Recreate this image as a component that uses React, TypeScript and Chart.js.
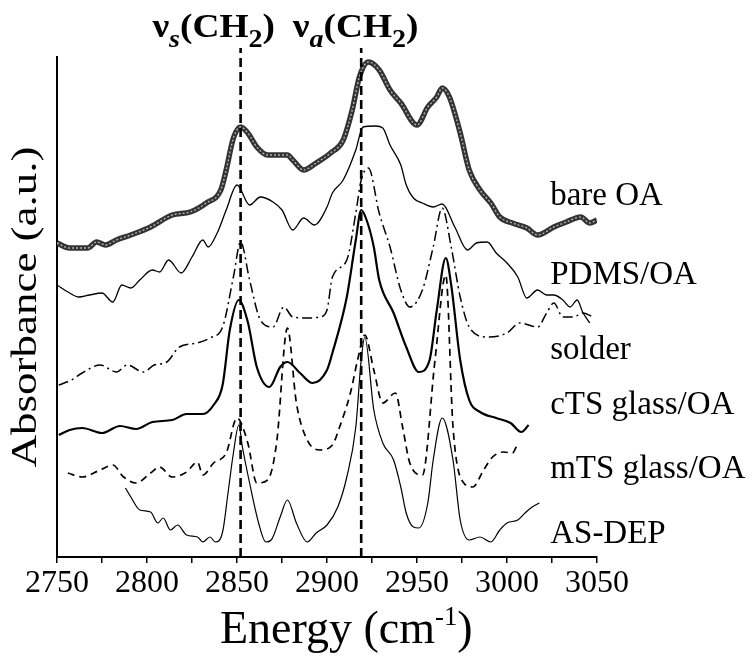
import React, { useEffect, useRef } from "react";
import { Chart, registerables } from "chart.js";

Chart.register(...registerables);

type Pt = [number, number];

// Wavenumber axis (cm^-1)
const xMin = 2750;
const xMax = 3050;
const xStep = 25;
const xLabelStep = 50;

// Band positions marked by the dashed guides
const bandCenters = [2852, 2919];
const bandTop = 101.8;

// Spectra, stacked with a vertical offset for display (absorbance, a.u.)
const bareOA: Pt[] = [
  [2750, 62.8], [2757, 61.8], [2767, 61.8], [2772, 63.0], [2777, 62.4], [2783, 63.4],
  [2791, 64.4], [2802, 66.0], [2814, 68.4], [2824, 69.0], [2833, 70.8], [2841, 73.4],
  [2844, 77.4], [2848, 83.8], [2852, 86.0], [2856, 84.8], [2861, 82.0], [2867, 80.4],
  [2874, 80.4], [2878, 80.4], [2881, 79.4], [2887, 77.4], [2894, 78.8], [2902, 80.8],
  [2909, 83.4], [2914, 89.4], [2918, 96.0], [2923, 99.0], [2929, 97.4], [2935, 93.4],
  [2941, 90.8], [2950, 86.4], [2956, 90.0], [2961, 92.0], [2964, 93.8], [2968, 92.0],
  [2974, 84.8], [2979, 77.4], [2985, 73.4], [2991, 70.8], [2996, 68.0], [3003, 66.8],
  [3011, 65.8], [3017, 64.4], [3026, 66.0], [3033, 67.0], [3041, 68.0], [3046, 66.8],
  [3050, 67.4],
];

const pdmsOA: Pt[] = [
  [2750, 54.4], [2757, 52.8], [2762, 52.0], [2768, 52.4], [2775, 52.8], [2781, 51.0],
  [2786, 54.4], [2791, 53.8], [2796, 55.4], [2803, 57.4], [2807, 57.0], [2812, 59.4],
  [2819, 56.8], [2825, 60.0], [2831, 63.4], [2834, 62.0], [2839, 64.8], [2844, 69.4],
  [2850, 74.4], [2857, 70.4], [2863, 72.0], [2870, 71.0], [2875, 69.4], [2881, 65.4],
  [2887, 67.8], [2893, 66.4], [2900, 70.0], [2903, 72.8], [2909, 75.4], [2916, 81.4],
  [2920, 86.0], [2927, 86.2], [2931, 85.8], [2935, 82.4], [2941, 78.4], [2944, 74.4],
  [2948, 71.8], [2953, 70.8], [2959, 70.0], [2964, 70.6], [2971, 66.0], [2978, 61.4],
  [2983, 62.8], [2989, 63.0], [2994, 60.8], [3000, 58.8], [3006, 56.0], [3011, 51.8],
  [3017, 53.4], [3022, 52.4], [3026, 52.4], [3031, 51.4], [3035, 50.0], [3039, 51.4],
  [3042, 49.0], [3046, 46.8],
];

const solder: Pt[] = [
  [2751, 34.4], [2758, 35.4], [2764, 36.8], [2774, 38.4], [2783, 37.0], [2789, 38.4],
  [2798, 37.0], [2804, 38.4], [2811, 39.0], [2818, 42.0], [2828, 42.8], [2835, 43.8],
  [2842, 46.0], [2848, 56.0], [2852, 63.0], [2857, 55.4], [2863, 47.4], [2870, 46.0],
  [2876, 50.0], [2881, 48.0], [2889, 47.8], [2896, 48.0], [2900, 49.4], [2903, 56.0],
  [2911, 59.4], [2916, 68.8], [2919, 75.4], [2923, 77.8], [2929, 68.8], [2935, 62.0],
  [2941, 53.4], [2946, 50.0], [2953, 53.4], [2959, 62.0], [2964, 69.8], [2969, 62.0],
  [2974, 52.0], [2979, 46.0], [2989, 44.0], [3000, 44.8], [3007, 46.8], [3017, 46.0],
  [3022, 48.8], [3026, 50.8], [3031, 48.0], [3037, 48.0], [3042, 48.8], [3048, 48.0],
];

const ctsGlassOA: Pt[] = [
  [2751, 24.4], [2757, 25.4], [2764, 25.8], [2775, 24.8], [2785, 26.2], [2794, 25.6],
  [2803, 27.0], [2814, 27.4], [2822, 28.6], [2831, 28.6], [2837, 30.4], [2842, 34.4],
  [2846, 45.4], [2851, 51.4], [2856, 47.0], [2861, 38.0], [2868, 34.0], [2874, 38.0],
  [2878, 39.0], [2885, 36.8], [2892, 34.8], [2900, 37.4], [2903, 40.8], [2911, 52.0],
  [2916, 63.4], [2919, 69.4], [2922, 67.4], [2926, 62.0], [2929, 55.4], [2937, 48.8],
  [2944, 42.0], [2951, 37.0], [2957, 39.4], [2961, 49.4], [2966, 59.8], [2969, 54.4],
  [2974, 39.4], [2979, 31.4], [2985, 29.0], [2994, 27.8], [3002, 26.8], [3008, 25.0],
  [3012, 26.4],
];

const mtsGlassOA: Pt[] = [
  [2756, 16.8], [2764, 16.0], [2774, 17.4], [2781, 18.4], [2787, 16.0], [2794, 14.8],
  [2802, 16.8], [2807, 18.0], [2814, 16.0], [2822, 17.0], [2828, 19.0], [2831, 16.4],
  [2837, 18.8], [2844, 20.8], [2850, 27.8], [2856, 22.8], [2861, 14.8], [2867, 15.4],
  [2872, 22.8], [2878, 45.8], [2883, 30.8], [2889, 23.4], [2896, 21.4], [2903, 22.4],
  [2907, 26.0], [2913, 32.8], [2917, 39.4], [2921, 44.4], [2926, 37.4], [2931, 30.8],
  [2938, 32.8], [2942, 26.0], [2946, 18.8], [2953, 16.4], [2960, 39.4], [2966, 56.4],
  [2970, 26.0], [2976, 14.8], [2981, 14.0], [2987, 17.4], [2992, 20.0], [2998, 21.0],
  [3003, 20.8], [3006, 22.8],
];

const asDep: Pt[] = [
  [2788, 13.8], [2791, 12.0], [2796, 9.4], [2802, 9.0], [2806, 6.8], [2809, 7.8],
  [2813, 5.4], [2817, 6.4], [2822, 4.4], [2828, 4.0], [2831, 3.0], [2835, 4.0],
  [2838, 3.0], [2842, 5.0], [2845, 12.8], [2848, 20.8], [2851, 26.4], [2853, 22.0],
  [2857, 14.8], [2862, 6.8], [2866, 3.0], [2869, 3.4], [2874, 8.0], [2878, 11.4],
  [2883, 6.8], [2889, 3.0], [2894, 4.8], [2900, 6.4], [2906, 10.0], [2911, 16.0],
  [2916, 26.0], [2919, 39.4], [2921, 44.0], [2926, 29.4], [2931, 22.8], [2937, 19.4],
  [2941, 14.0], [2944, 8.8], [2948, 6.0], [2951, 5.8], [2956, 10.8], [2959, 19.4],
  [2964, 27.8], [2970, 19.4], [2974, 7.4], [2979, 3.4], [2985, 4.0], [2991, 3.0],
  [2996, 5.4], [3000, 6.8], [3006, 7.4], [3010, 8.8], [3014, 10.0], [3018, 10.8],
];

// Trace names, written beside each spectrum
const seriesNames = ["bare OA", "PDMS/OA", "solder", "cTS glass/OA", "mTS glass/OA", "AS-DEP"];
const seriesLabelX = 3024;
const seriesLabelY = [70.4, 54.6, 39.6, 28.6, 15.8, 2.8];

// Band assignment labels above the guides
const bandLabelX = [2803, 2881];
const bandLabelY = 104;
const bandLabelSub = ["s", "a"];

const SERIF = '"Liberation Serif", "Times New Roman", serif';

type Run = { t: string; bold?: boolean; italic?: boolean; sub?: boolean; sup?: boolean };

function drawRuns(
  ctx: CanvasRenderingContext2D,
  runs: Run[],
  x: number,
  y: number,
  size: number,
  opts: { sx?: number; subScale?: number; subDy?: number; supScale?: number; supDy?: number } = {}
) {
  const sx = opts.sx ?? 1;
  const subScale = opts.subScale ?? 0.62;
  const supScale = opts.supScale ?? 0.6;
  const subDy = opts.subDy ?? size * 0.25;
  const supDy = opts.supDy ?? -size * 0.38;
  ctx.save();
  ctx.translate(x, y);
  ctx.scale(sx, 1);
  ctx.textAlign = "left";
  ctx.textBaseline = "alphabetic";
  ctx.fillStyle = "#000";
  let cx = 0;
  for (const r of runs) {
    const s = r.sub ? size * subScale : r.sup ? size * supScale : size;
    ctx.font = `${r.italic ? "italic " : ""}${r.bold ? "bold " : ""}${s}px ${SERIF}`;
    const dy = r.sub ? subDy : r.sup ? supDy : 0;
    ctx.fillText(r.t, cx, dy);
    cx += ctx.measureText(r.t).width;
  }
  ctx.restore();
}

const textPlugin = {
  id: "spectraText",
  afterDraw(chart: any) {
    const { ctx, chartArea, scales } = chart;
    const xs = scales.x;
    const ys = scales.y;

    // Trace names
    ctx.save();
    ctx.fillStyle = "#000";
    ctx.font = `33px ${SERIF}`;
    ctx.textAlign = "left";
    ctx.textBaseline = "alphabetic";
    seriesNames.forEach((name, i) => {
      ctx.fillText(name, xs.getPixelForValue(seriesLabelX), ys.getPixelForValue(seriesLabelY[i]));
    });
    ctx.restore();

    // Band labels: ν_s(CH2), ν_a(CH2)
    bandLabelSub.forEach((sub, i) => {
      drawRuns(
        ctx,
        [
          { t: "ν", bold: true },
          { t: sub, bold: true, italic: true, sub: true },
          { t: "(CH", bold: true },
          { t: "2", bold: true, sub: true },
          { t: ")", bold: true },
        ],
        xs.getPixelForValue(bandLabelX[i]),
        ys.getPixelForValue(bandLabelY),
        34,
        { sx: 1.1, subScale: 0.75, subDy: 10 }
      );
    });

    // x axis title
    drawRuns(
      ctx,
      [{ t: "Energy (cm" }, { t: "-1", sup: true }, { t: ")" }],
      chartArea.left + 163,
      chartArea.bottom + 86,
      46,
      { supScale: 0.58, supDy: -18 }
    );

    // y axis title
    ctx.save();
    ctx.translate(36, (chartArea.top + chartArea.bottom) / 2);
    ctx.rotate(-Math.PI / 2);
    ctx.scale(1, 0.8);
    ctx.fillStyle = "#000";
    ctx.font = `45px ${SERIF}`;
    ctx.textAlign = "center";
    ctx.textBaseline = "alphabetic";
    ctx.fillText("Absorbance (a.u.)", 0, 0);
    ctx.restore();
  },
};

const toXY = (a: Pt[]) => a.map(([x, y]) => ({ x, y }));

export default function App() {
  const canvasRef = useRef<HTMLCanvasElement | null>(null);

  useEffect(() => {
    const canvas = canvasRef.current;
    if (!canvas) return;

    const line = (data: Pt[], extra: any) => ({
      data: toXY(data),
      borderColor: "#000",
      borderWidth: 1.3,
      pointRadius: 0,
      fill: false,
      cubicInterpolationMode: "monotone",
      ...extra,
    });

    const guides = bandCenters.map((c) => ({
      data: [
        { x: c, y: 0 },
        { x: c, y: bandTop },
      ],
      borderColor: "#000",
      borderWidth: 2.6,
      borderDash: [9, 5],
      pointRadius: 0,
      fill: false,
      clip: false,
    }));

    const chart = new Chart(canvas, {
      type: "line",
      data: {
        datasets: [
          ...guides,
          line(bareOA, { borderColor: "#b0b0b0", borderWidth: 1.4, borderDash: [2, 2] }),
          line(bareOA, { borderColor: "#333", borderWidth: 5.5 }),
          line(pdmsOA, { borderWidth: 1.3 }),
          line(solder, { borderWidth: 1.5, borderDash: [10, 4, 2, 4] }),
          line(ctsGlassOA, { borderWidth: 2.2 }),
          line(mtsGlassOA, { borderWidth: 1.7, borderDash: [7, 5] }),
          line(asDep, { borderWidth: 1.2 }),
        ] as any,
      },
      options: {
        animation: false,
        responsive: false,
        devicePixelRatio: 1,
        layout: { padding: { top: 57, right: 156, left: 0, bottom: 0 } },
        plugins: { legend: { display: false }, tooltip: { enabled: false } },
        scales: {
          x: {
            type: "linear",
            min: xMin,
            max: xMax,
            afterFit: (s: any) => {
              s.height = 103;
            },
            ticks: {
              stepSize: xStep,
              autoSkip: false,
              maxRotation: 0,
              padding: 1,
              color: "#000",
              font: { family: SERIF, size: 32 },
              callback: (v: any) => (Number(v) % xLabelStep === 0 ? String(v) : ""),
            },
            grid: { drawOnChartArea: false, drawTicks: true, tickLength: 6, color: "#000", lineWidth: 1.5 },
            border: { display: true, color: "#000", width: 2 },
          },
          y: {
            type: "linear",
            min: 0,
            max: 100,
            afterFit: (s: any) => {
              s.width = 57;
            },
            ticks: { display: false },
            grid: { drawOnChartArea: false, drawTicks: false },
            border: { display: true, color: "#000", width: 2 },
          },
        },
      },
      plugins: [textPlugin],
    });

    return () => chart.destroy();
  }, []);

  return (
    <div style={{ position: "fixed", left: 0, top: 0, width: 753, height: 660, background: "#fff" }}>
      <canvas ref={canvasRef} width={753} height={660} />
    </div>
  );
}
